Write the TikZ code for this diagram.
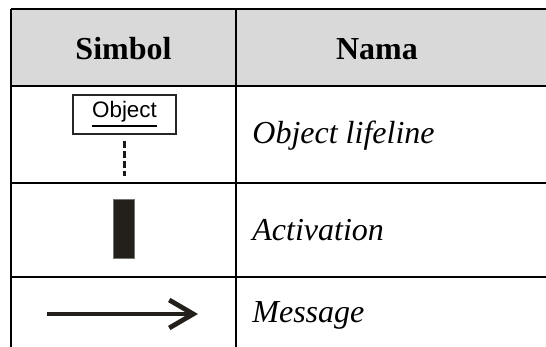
\documentclass[tikz,border=0pt]{standalone}
\usepackage{fontspec}
\setmainfont{Liberation Serif}
\newfontfamily\objfont{Liberation Sans}
\usepackage{xcolor}
\usetikzlibrary{arrows.meta}
\definecolor{HeadGray}{HTML}{D9D9D9}
\definecolor{BarDark}{HTML}{231F1A}

\begin{document}
\begin{tikzpicture}[
x=0.375pt,y=-0.375pt,
TableLine/.style={draw=black,line width=1.1pt},
HeadText/.style={font=\fontsize{12}{14}\selectfont\bfseries,anchor=base},
NameText/.style={font=\fontsize{12}{14}\selectfont\itshape,anchor=base west},
ObjBox/.style={draw=black!85,line width=0.8pt,minimum width=38.6pt,minimum height=14.6pt,inner sep=0pt,font=\objfont\fontsize{8.4}{10}\selectfont},
LifeLine/.style={draw=black!90,line width=1.1pt,dash pattern=on 2.5pt off 1.25pt},
ActBar/.style={draw=black!55,fill=BarDark,line width=0.3pt,minimum width=7.9pt,minimum height=22.1pt,inner sep=0pt},
MsgArrow/.style={draw=BarDark,line width=1.2pt,-{Straight Barb[length=9pt,width=10.5pt,line width=1.8pt]}}
]
\useasboundingbox (0,0) rectangle (546,347);

% header
\fill[HeadGray] (11,9) rectangle (546,86);
\node[HeadText] (simbol) at (123.5,59) {Simbol};
\node[HeadText] (nama) at (377,59) {Nama};

% grid
\draw[TableLine] (11,9) -- (546,9);
\draw[TableLine] (11,86) -- (546,86);
\draw[TableLine] (11,183) -- (546,183);
\draw[TableLine] (11,277) -- (546,277);
\draw[TableLine] (11,8.5) -- (11,347);
\draw[TableLine] (236,8.5) -- (236,347);

% object lifeline
\node[ObjBox] (obj) at (124.5,114.5) {\underline{Object}};
\coordinate (lifetop) at (124.5,141);
\coordinate (lifebot) at (124.5,176);
\draw[LifeLine] (lifetop) -- (lifebot);
\node[NameText] (lifename) at (243,143) {Object lifeline};

% activation
\node[ActBar] (act) at (123.5,228.5) {};
\node[NameText] (actname) at (243,240) {Activation};

% message
\coordinate (msgstart) at (47,314);
\coordinate (msgend) at (198,314);
\draw[MsgArrow] (msgstart) -- (msgend);
\node[NameText] (msgname) at (243,323) {Message};

\end{tikzpicture}
\end{document}
